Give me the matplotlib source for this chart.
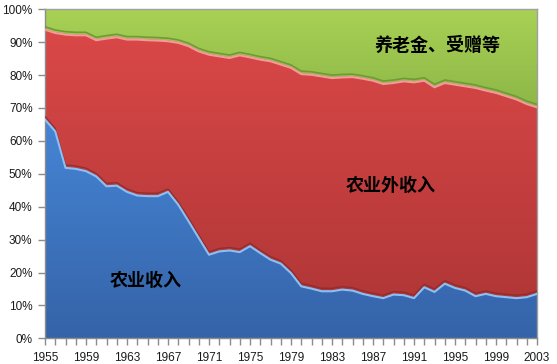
import numpy as np
import matplotlib
matplotlib.use("Agg")
from matplotlib import pyplot as plt
from matplotlib.colors import LinearSegmentedColormap

plt.rcParams['font.family'] = ['Liberation Sans', 'DejaVu Sans']

years = np.arange(1955, 2004)

# shares in %
agri = [66.9, 63.3, 52.2, 51.9, 51.2, 49.6, 46.6, 46.8, 44.9, 43.8, 43.6, 43.6,
        44.9, 41.0, 36.0, 30.9, 25.8, 26.8, 27.1, 26.6, 28.4, 26.3, 24.3, 23.1,
        20.2, 16.2, 15.5, 14.7, 14.7, 15.2, 14.9, 13.9, 13.2, 12.6, 13.7, 13.5,
        12.6, 15.9, 14.5, 17.0, 15.7, 14.9, 13.2, 13.9, 13.2, 12.9, 12.6, 12.9, 13.9]
nonagri = [27.3, 29.9, 40.5, 40.6, 41.3, 41.4, 44.9, 45.1, 46.3, 47.4, 47.4, 47.3,
           45.8, 49.2, 53.2, 56.7, 60.8, 59.3, 58.5, 59.8, 57.4, 58.8, 60.3, 60.5,
           62.4, 64.5, 65.0, 65.3, 64.8, 64.5, 64.9, 65.4, 65.5, 65.1, 64.3, 65.0,
           65.6, 62.8, 62.2, 61.0, 61.8, 62.1, 63.3, 61.8, 61.8, 61.1, 60.4, 58.7, 56.7]
# the rest up to 100%
other = [100 - a - b for a, b in zip(agri, nonagri)]

labels = ['农业收入', '农业外收入', '养老金、受赠等']

agri = np.array(agri)
top1 = agri
top2 = agri + np.array(nonagri)
top3 = top2 + np.array(other)

fig = plt.figure(figsize=(5.57, 3.64), dpi=100)
ax = fig.add_axes([45/557, 1 - 338.3/364, 492/557, 329/364])
ax.set_xlim(1955, 2003)
ax.set_ylim(0, 100)

def grad_fill(lo, hi, c_top, c_bot, y0, y1):
    poly = ax.fill_between(years, lo, hi, color=c_bot, lw=0)
    cmap = LinearSegmentedColormap.from_list('g', [c_bot, c_top])
    img = ax.imshow(np.linspace(0, 1, 256).reshape(-1, 1), cmap=cmap, aspect='auto',
                    origin='lower', extent=[1955, 2003, y0, y1], zorder=1)
    img.set_clip_path(poly.get_paths()[0], transform=ax.transData)
    return poly

grad_fill(0, top1, '#4686d6', '#3563a8', 0, 68)
grad_fill(top1, top2, '#db4848', '#b23737', 12, 95)
grad_fill(top2, top3, '#a8d155', '#8db747', 70, 100)

# bevel edges
ax.plot(years, top2 + 0.5, color='#6f9a36', lw=1.2, zorder=3)
ax.plot(years, top2 - 0.4, color='#f49a9a', lw=1.5, zorder=3)
ax.plot(years, top1 + 0.5, color='#8a2a2a', lw=1.0, zorder=3, alpha=0.8)
ax.plot(years, top1 - 0.4, color='#8cc0f4', lw=1.5, zorder=3)

# category labels placed inside the areas (pixel positions from top-left)
for lab, (x, y) in zip(labels, [(146, 280), (391, 185), (437, 45)]):
    fig.text(x / 557, 1 - y / 364, lab, fontsize=13, fontweight='bold',
             family=['Noto Sans CJK SC'], ha='center', va='center', zorder=5)

ax.set_xticks(np.arange(1955, 2004, 4))
ax.set_xticks(np.arange(1955, 2004, 1), minor=True)
ax.set_yticks(np.arange(0, 101, 10))
ax.set_yticklabels([f'{v}%' for v in range(0, 101, 10)])
ax.tick_params(axis='both', which='both', direction='out', length=5, width=1,
               color='#8c8c8c', labelsize=8.5, labelcolor='#1a1a1a')
ax.tick_params(axis='x', pad=5)
ax.tick_params(axis='y', pad=4)
for s in ax.spines.values():
    s.set_color('#a0a0a0')
    s.set_linewidth(1)
ax.spines['left'].set_color('#8c8c8c')
ax.spines['bottom'].set_color('#8c8c8c')

fig.savefig('out.png', dpi=100)
